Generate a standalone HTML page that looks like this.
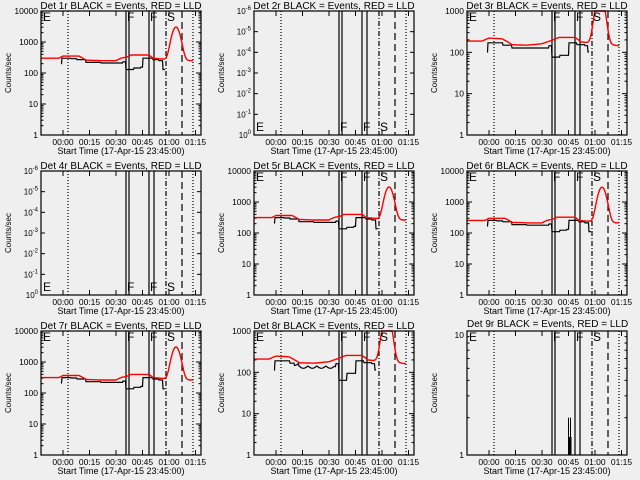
<!DOCTYPE html>
<html><head><meta charset="utf-8"><style>
html,body{margin:0;padding:0;background:#efefef;}
svg{display:block;font-family:"Liberation Sans",sans-serif;}
.t{position:absolute;font-family:"Liberation Sans",sans-serif;color:#000;white-space:nowrap;line-height:1;}
</style></head><body>
<svg id="s" width="640" height="480" xmlns="http://www.w3.org/2000/svg"></svg>
<div class="t" style="left:467px;top:320px;width:160px;text-align:center;font-size:10px;">Det 9r BLACK = Events, RED = LLD</div>
<div class="t" style="left:445px;top:331px;width:19px;text-align:right;font-size:8.5px;">10</div>
<div class="t" style="left:445px;top:451px;width:19px;text-align:right;font-size:8.5px;">1</div>
<div class="t" style="left:469px;top:331px;font-size:12px;">E</div>
<script>
var s=document.getElementById('s'),out='',txt='';
var Ls=[41,254,467],Ts=[11,171,331],W=160,H=124;
function step(pts,o){var v=null;for(var i=0;i<pts.length;i++){if(o>=pts[i][0])v=pts[i][1];}return v;}
function interp(pts,o){if(o<pts[0][0]||o>pts[pts.length-1][0])return null;for(var i=1;i<pts.length;i++){if(o<=pts[i][0]){var a=pts[i-1],b=pts[i];var t=(o-a[0])/(b[0]-a[0]);return a[1]+(b[1]-a[1])*t;}}return null;}
function gauss(o,c,w,a){return a*Math.exp(-Math.pow((o-c)/w,2));}
function redA(o,sc){var base=interp([[0,300],[18,300],[22,350],[38,350],[45,260],[60,250],[75,250],[80,300],[86,330],[90,380],[108,380],[112,300],[122,280],[126,250],[152,250]],o);return base*sc+gauss(o,135,5,2800);}
function blackA(o,sc){if(o<20||o>124)return null;return step([[20,200],[21,300],[30,290],[36,270],[45,220],[60,210],[75,210],[82,230],[85,130],[93,145],[100,155],[102,300],[112,270],[118,250],[122,130]],o)*sc;}
function redB(o,sc){var base=interp([[0,220],[15,220],[22,260],[35,250],[45,180],[60,175],[75,190],[85,230],[92,270],[108,270],[114,210],[122,200],[126,200],[152,170]],o);return base*sc+gauss(o,133,5,2500);}
function blackB(o,sc,noise){if(o<20||o>122)return null;var v=step([[20,120],[21,200],[30,200],[36,175],[45,150],[60,150],[75,150],[82,170],[85,90],[93,100],[100,100],[102,200],[110,180],[118,170],[121,120]],o);if(noise){v*=(o>40&&o<82)?(1-0.12*Math.abs(Math.sin(o*0.35))):1;if(o>=85&&o<93)v*=0.75;}return v*sc;}
var panels=[
{n:1,ty:'A',lo:0,hi:4,sc:1},{n:2,ty:'E1'},{n:3,ty:'B',lo:0,hi:3,sc:0.85},
{n:4,ty:'E1'},{n:5,ty:'A',lo:0,hi:4,sc:1.05},{n:6,ty:'A',lo:0,hi:4,sc:0.85},
{n:7,ty:'A',lo:0,hi:4,sc:1.05},{n:8,ty:'B',lo:0,hi:3,sc:0.95,noise:1},{n:9,ty:'E9',lo:0,hi:1}];
panels.forEach(function(p,i){
var L=Ls[i%3],T=Ts[Math.floor(i/3)],B=T+H,R=L+W;
if(p.n!=9)txt+='<text x="'+(L+W/2)+'" y="'+(T-2)+'" font-size="10" text-anchor="middle">Det '+p.n+'r BLACK = Events, RED = LLD</text>';
txt+='<text transform="translate('+(L-30)+','+(T+H/2)+') rotate(-90)" font-size="8" text-anchor="middle">Counts/sec</text>';
var xt=['00:00','00:15','00:30','00:45','01:00','01:15'];
for(var k=0;k<6;k++){var x=L+22+k*26.5;txt+='<text x="'+x+'" y="'+(B+10)+'" font-size="8.5" text-anchor="middle">'+xt[k]+'</text>';
out+='<line x1="'+x+'" y1="'+B+'" x2="'+x+'" y2="'+(B-5)+'" stroke="#000"/><line x1="'+x+'" y1="'+T+'" x2="'+x+'" y2="'+(T+5)+'" stroke="#000"/>';}
txt+='<text x="'+(L+W/2)+'" y="'+(B+19)+'" font-size="9" text-anchor="middle">Start Time (17-Apr-15 23:45:00)</text>';
var lo,hi;
if(p.ty=='E1'){lo=0;hi=6;for(var d=0;d<=6;d++){var y=B-d*H/6;txt+='<text x="'+(L-3)+'" y="'+(y+3)+'" font-size="8" text-anchor="end">10<tspan dy="-4" font-size="6">'+(d==0?'0':'-'+d)+'</tspan></text>';out+='<line x1="'+L+'" y1="'+y+'" x2="'+(L+4)+'" y2="'+y+'" stroke="#000"/><line x1="'+R+'" y1="'+y+'" x2="'+(R-4)+'" y2="'+y+'" stroke="#000"/>';}}
else{lo=p.lo;hi=p.hi;var ph=H/(hi-lo);for(var d=lo;d<=hi;d++){var y=B-(d-lo)*ph;if(p.n!=9)txt+='<text x="'+(L-3)+'" y="'+(y+3)+'" font-size="8.5" text-anchor="end">'+String(Math.pow(10,d))+'</text>';out+='<line x1="'+L+'" y1="'+y+'" x2="'+(L+5)+'" y2="'+y+'" stroke="#000"/><line x1="'+R+'" y1="'+y+'" x2="'+(R-5)+'" y2="'+y+'" stroke="#000"/>';
if(d<hi)for(var m=2;m<10;m++){var ym=y-Math.log10(m)*ph;out+='<line x1="'+L+'" y1="'+ym+'" x2="'+(L+2.5)+'" y2="'+ym+'" stroke="#000"/><line x1="'+R+'" y1="'+ym+'" x2="'+(R-2.5)+'" y2="'+ym+'" stroke="#000"/>';}}}
function Y(v){var y=B-(Math.log10(v)-lo)/(hi-lo)*H;return Math.max(T,Math.min(B,y));}
var vl=[[27,'1,2'],[85,''],[88,''],[108,''],[113,''],[125,'5,2,1,2'],[141,'7,4'],[152,'1,2']];
vl.forEach(function(v){out+='<line x1="'+(L+v[0])+'" y1="'+T+'" x2="'+(L+v[0])+'" y2="'+B+'" stroke="#000" stroke-width="1.2"'+(v[1]?' stroke-dasharray="'+v[1]+'"':'')+'/>';});
var ly=(p.ty=='E1')?B-4:T+10;
[[2,'E'],[86,'F'],[109,'F'],[126,'S']].forEach(function(t){if(p.n==9&&t[1]=='E')return;txt+='<text x="'+(L+t[0])+'" y="'+ly+'" font-size="12">'+t[1]+'</text>';});
if(p.ty=='A'||p.ty=='B'){
var rf=p.ty=='A'?redA:redB,bf=p.ty=='A'?blackA:blackB;
var pr='',pb='',pen=false;
for(var o=0;o<=152;o+=0.5){var rv=rf(o,p.sc);pr+=(o==0?'M':'L')+(L+o)+','+Y(rv).toFixed(1);
var bv=bf(o,p.sc,p.noise);if(bv!=null){pb+=(pen?'L':'M')+(L+o)+','+Y(bv).toFixed(1);pen=true;}else pen=false;}
out+='<path d="'+pb+'" fill="none" stroke="#000" stroke-width="1.2"/>';
out+='<path d="'+pr+'" fill="none" stroke="#f00" stroke-width="1.4"/>';}
if(p.ty=='E9'){var y2=Y(2),y14=Y(1.4);out+='<rect x="'+(L+101)+'" y="'+y2+'" width="1" height="'+(B-y2)+'"/><rect x="'+(L+103)+'" y="'+y2+'" width="1" height="'+(B-y2)+'"/><rect x="'+(L+102)+'" y="'+y14+'" width="2.5" height="'+(B-y14)+'"/>';}
out+='<rect x="'+L+'" y="'+T+'" width="'+W+'" height="'+H+'" fill="none" stroke="#000" stroke-width="1.2"/>';
});
s.innerHTML=out+txt;
</script>
<style>.t{z-index:2}</style>
</body></html>
